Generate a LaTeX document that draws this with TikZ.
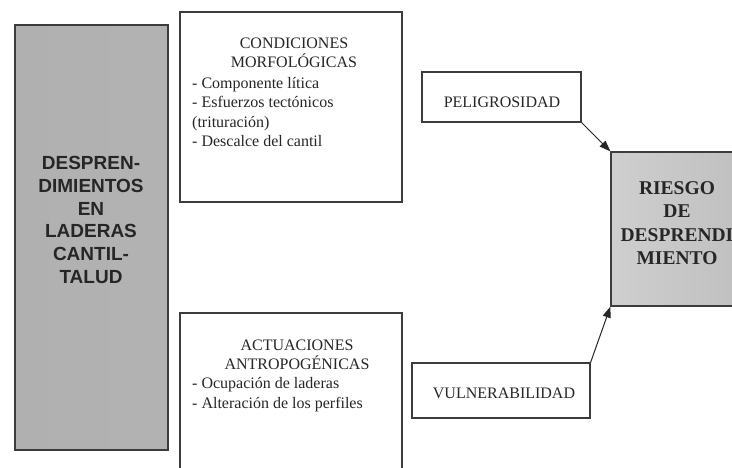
\documentclass[tikz,border=0pt]{standalone}
\usepackage{fontspec}
\setmainfont{Liberation Serif}
\newfontfamily\arialfont{Liberation Sans}
\usetikzlibrary{arrows.meta}
\definecolor{edge}{HTML}{3C3C3C}
\tikzset{
  wbox/.style={draw=edge, line width=1.2pt, fill=white, rectangle, inner sep=0pt},
  graybox/.style={draw=edge, line width=1.2pt, rectangle, inner sep=0pt, left color=gray!62, middle color=gray!38, right color=gray!60},
  riskbox/.style={draw=edge, line width=1.2pt, rectangle, inner sep=0pt, left color=gray!38, middle color=gray!28, right color=gray!50},
  txt/.style={inner sep=0pt, text=black!85, font=\fontsize{16}{19.5}\selectfont},
  arr/.style={draw=black!85, line width=1pt, -{Triangle[length=11pt,width=8pt]}}
}
\begin{document}
\begin{tikzpicture}[x=1pt,y=-1pt]
\clip (0,0) rectangle (732,468);
\useasboundingbox (0,0) rectangle (732,468);
\fill[white] (0,0) rectangle (732,468);
% left gray box
\node[graybox, minimum width=153, minimum height=425] (desp) at (91.5,237.5) {};
\node[inner sep=0pt, align=center, text=black!85, font=\arialfont\bfseries\fontsize{19}{22.7}\selectfont] (desptxt) at (91,220) {DESPREN-\\DIMIENTOS\\EN\\LADERAS\\CANTIL-\\TALUD};
% condiciones
\node[wbox, minimum width=222, minimum height=190] (cond) at (291,107) {};
\node[txt, align=center, anchor=north] (condt) at (294,37.5) {CONDICIONES\\MORFOLÓGICAS};
\node[txt, align=left, anchor=north west] (condl) at (192,77) {- Componente lítica\\- Esfuerzos tectónicos\\(trituración)\\- Descalce del cantil};
% actuaciones
\node[wbox, minimum width=222, minimum height=167] (act) at (291,396.5) {};
\node[txt, align=center, anchor=north, font=\fontsize{16}{19}\selectfont] (actt) at (297,339.5) {ACTUACIONES\\ANTROPOGÉNICAS};
\node[txt, align=left, anchor=north west, font=\fontsize{16}{20}\selectfont] (actl) at (192,377) {- Ocupación de laderas\\- Alteración de los perfiles};
% peligrosidad
\node[wbox, minimum width=159, minimum height=50] (pel) at (501.5,97) {};
\node[txt] (peltxt) at (502,102) {PELIGROSIDAD};
% vulnerabilidad
\node[wbox, minimum width=178, minimum height=55] (vul) at (501,390.5) {};
\node[txt] (vultxt) at (504,393) {VULNERABILIDAD};
% riesgo
\node[riskbox, minimum width=134, minimum height=154] (ries) at (678,229) {};
\node[inner sep=0pt, align=center, text=black!85, font=\bfseries\fontsize{19.5}{23.3}\selectfont] (riestxt) at (677,223) {RIESGO\\DE\\DESPRENDI\\MIENTO};
% arrows
\draw[arr] (pel.south east) -- (ries.north west);
\draw[arr] (vul.north east) -- (ries.south west);
\end{tikzpicture}
\end{document}
